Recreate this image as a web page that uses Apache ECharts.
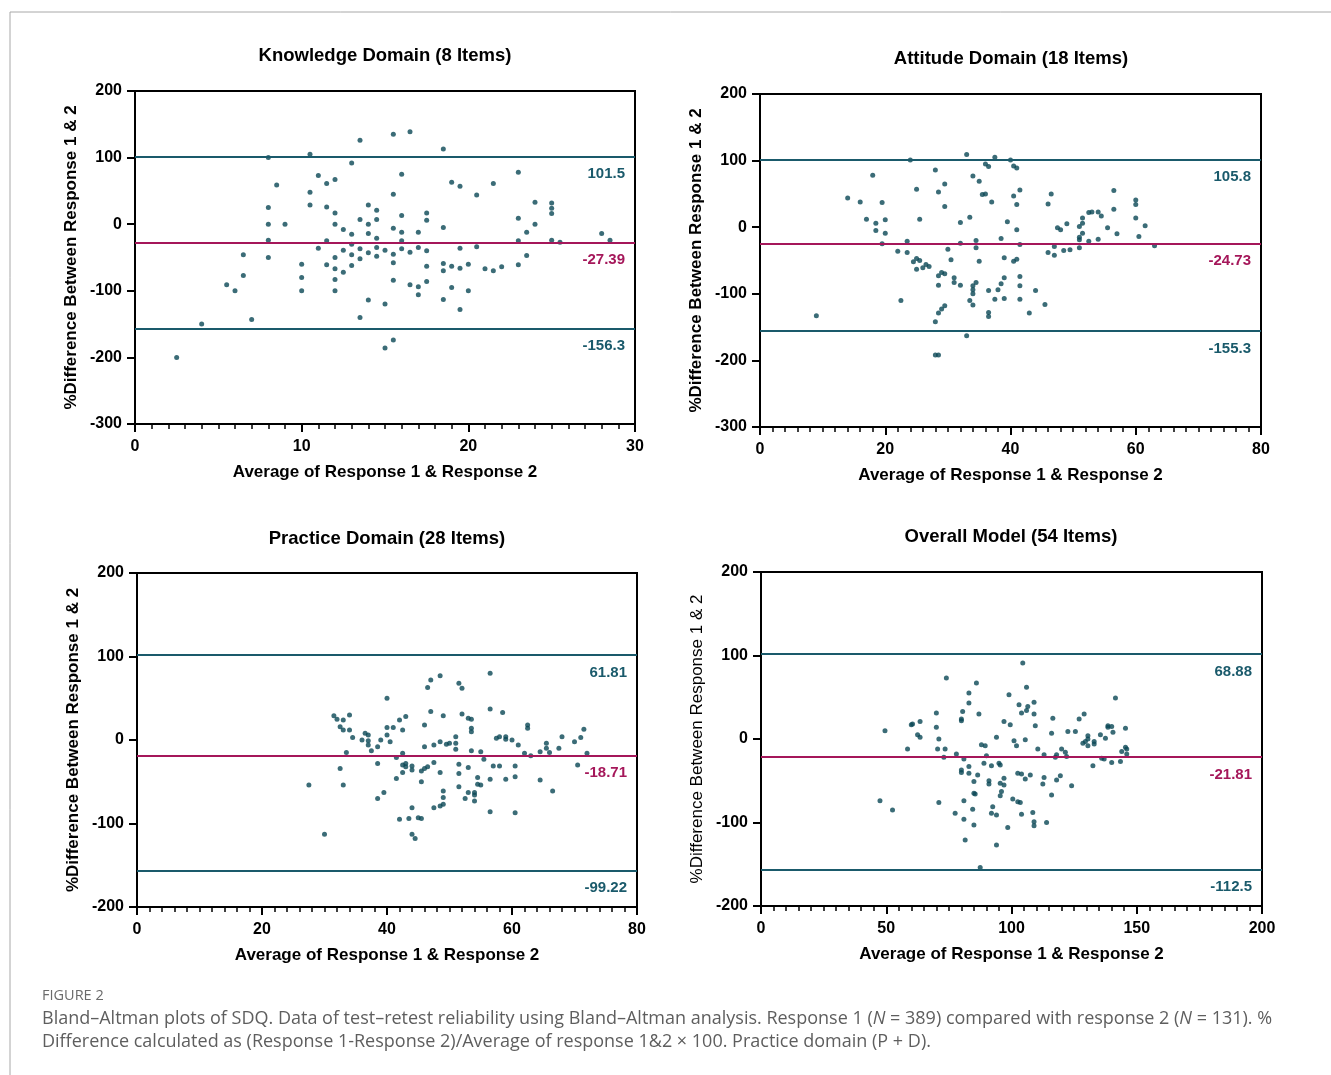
<!DOCTYPE html>
<html>
<head>
<meta charset="utf-8">
<script src="https://cdn.jsdelivr.net/npm/echarts@6/dist/echarts.min.js"></script>
<style>
html,body{margin:0;padding:0;background:#fff;}
#chart{width:1331px;height:1075px;}
</style>
</head>
<body>
<div id="chart"></div>
<script>
// ---------- DATA ----------
const panelTitles = ['Knowledge Domain (8 Items)', 'Attitude Domain (18 Items)', 'Practice Domain (28 Items)', 'Overall Model (54 Items)'];
const xAxisName = 'Average of Response 1 & Response 2';
const yAxisName = '%Difference Between Response 1 & 2';
const xMax = [30, 80, 80, 200];
const xInterval = [10, 20, 20, 50];
const yMin = [-300, -300, -200, -200];
const yMax = [200, 200, 200, 200];

// drawn line positions (as in the figure) and their printed labels
const upperLine = [101.5, 102, 101.5, 101.5];
const meanLine = [-27.39, -24.73, -18.71, -21.81];
const lowerLine = [-156.3, -156, -156.3, -156.3];
const upperText = ['101.5', '105.8', '61.81', '68.88'];
const meanText = ['-27.39', '-24.73', '-18.71', '-21.81'];
const lowerText = ['-156.3', '-155.3', '-99.22', '-112.5'];

const knowledgePoints = [
[2.5,-200],[4,-150],[5.5,-91],[6,-100],[6.5,-46],[6.5,-77],[7,-143],[8,100],[8,25],[8,0],[8,-24],[8,-50],[8.5,59],[9,0],
[10,-60],[10,-80],[10,-100],[10.5,105],[10.5,48],[10.5,29],[11,73],[11,-36],[11.5,61],[11.5,26],[11.5,-25],[11.5,-61],
[12,67],[12,17],[12,0],[12,-50],[12,-67],[12,-83],[12,-100],[12.5,-8],[12.5,-39],[12.5,-72],[13,92],[13,-15],[13,-30],[13,-46],[13,-62],
[13.5,126],[13.5,7],[13.5,-37],[13.5,-52],[13.5,-140],[14,29],[14,0],[14,-14],[14,-43],[14,-114],[14.5,21],[14.5,7],[14.5,-21],[14.5,-35],[14.5,-48],
[15,-39],[15,-120],[15,-186],[15.5,135],[15.5,45],[15.5,-6],[15.5,-45],[15.5,-58],[15.5,-84],[15.5,-174],[16,75],[16,13],[16,-12],[16,-25],[16,-37],
[16.5,139],[16.5,-42],[16.5,-91],[17,-12],[17,-35],[17,-94],[17,-106],[17.5,17],[17.5,6],[17.5,-40],[17.5,-63],[17.5,-86],
[18.5,113],[18.5,-5],[18.5,-59],[18.5,-70],[18.5,-113],[19,63],[19,-63],[19,-95],[19.5,57],[19.5,-36],[19.5,-66],[19.5,-128],
[20,-60],[20,-100],[20.5,44],[20.5,-34],[21,-67],[21.5,61],[21.5,-70],[22,-64],[23,78],[23,9],[23,-25],[23,-61],[23.5,-12],[23.5,-47],
[24,33],[24,0],[25,32],[25,24],[25,16],[25,-24],[25.5,-27],[28,-14],[28.5,-24]
];
const attitudePoints = [
[9,-133],[14,44],[16,38],[17,12],[18,78],[18.5,6],[18.5,-5],[19.5,37],[19.5,-25],[20,11],[20,-9],[22,-36],[22.5,-110],[23.5,-21],[23.5,-38],
[24,101],[24.5,-52],[25,57],[25,-47],[25,-63],[25.5,12],[25.5,-50],[26,-61],[26.5,-56],[27,-59],[28,86],[28,-142],[28,-192],
[28.5,53],[28.5,-73],[28.5,-87],[28.5,-129],[28.5,-192],[29,-68],[29,-123],[29.5,65],[29.5,31],[29.5,-70],[29.5,-118],[30,-33],[30.5,-49],
[31,-76],[31,-83],[32,7],[32,-24],[32,-87],[33,109],[33,-163],[33.5,15],[33.5,-110],[34,77],[34,-88],[34,-94],[34,-100],[34,-117],
[34.5,-20],[34.5,-31],[34.5,-83],[35,69],[35,-51],[35.5,49],[36,50],[36,95],[36.5,91],[36.5,-95],[36.5,-128],[36.5,-134],[37,38],
[37.5,105],[37.5,-108],[38,-94],[38.5,-17],[38.5,-85],[39,-46],[39,-76],[39,-107],[39.5,8],[40,101],[40.5,92],[40.5,47],[40.5,-51],
[41,89],[41,34],[41,-4],[41,-48],[41.5,56],[41.5,-26],[41.5,-74],[41.5,-88],[41.5,-108],[43,-129],[44,-95],[45.5,-116],
[46,35],[46,-38],[46.5,50],[47,-29],[47,-42],[47.5,-1],[48,-4],[48.5,-35],[49,5],[49.5,-34],[51,1],[51,-15],[51,-19],[51,-31],
[51.5,6],[51.5,14],[51.5,-9],[52.5,22],[52.5,-21],[53,23],[54,23],[54,-18],[54.5,17],[55.5,-1],[56.5,55],[56.5,27],[57,-10],
[60,41],[60,34],[60,14],[60.5,-14],[61.5,2],[63,-28]
];
const practicePoints = [
[27.5,-54],[30,-113],[31.5,29],[32,25],[32.5,16],[32.5,-34],[33,24],[33,12],[33,-54],[33.5,-15],[34,30],[34,12],[34.5,3],
[36,0],[36.5,8],[37,6],[37,-1],[37,-6],[37.5,-13],[38.5,-8],[38.5,-28],[38.5,-70],[39,0],[39.5,-63],[40,50],[40,15],[40,6],[40.5,-2],
[41,15],[41.5,-21],[41.5,-46],[42,24],[42,-95],[42.5,12],[42.5,-16],[42.5,-30],[42.5,-39],[43,28],[43,-28],[43,-32],[43.5,-94],
[44,-31],[44,-36],[44,-81],[44,-113],[44.5,-118],[45,-93],[45.5,-37],[45.5,-50],[45.5,-94],[46,18],[46,-8],[46,-34],[46.5,63],[46.5,-32],
[47,72],[47,34],[47.5,-6],[47.5,-27],[47.5,-81],[48.5,77],[48.5,-2],[48.5,-39],[48.5,-79],[49,29],[49,-61],[49,-69],[49,-77],
[49.5,-5],[50,-4],[51,4],[51,-4],[51,-11],[51.5,68],[51.5,-29],[51.5,-40],[51.5,-56],[52,62],[52,31],[52.5,-70],
[53,26],[53,-33],[53,-63],[53.5,25],[53.5,14],[53.5,10],[53.5,-13],[54,-63],[54,-66],[54,-73],[54.5,-45],[54.5,-53],[55,-14],[55,-54],[55.5,-23],
[56.5,80],[56.5,37],[56.5,-47],[56.5,-86],[57,-31],[57.5,2],[58,4],[58,-31],[58.5,33],[59,4],[59,1],[59,-47],
[60,0],[60.5,-31],[60.5,-44],[60.5,-87],[61,-6],[62,-16],[62.5,18],[62.5,14],[63,-19],[64.5,-14],[64.5,-48],
[65.5,-4],[65.5,-10],[66,-15],[66.5,-61],[67.5,-10],[68,4],[70,-2],[70.5,-30],[71,3],[71.5,13],[72,-16]
];
const overallPoints = [
[47.5,-74],[49.5,10],[52.5,-85],[58.5,-12],[60,17],[60.5,18],[63.5,21],[62.5,5],[63.5,2],
[70,31],[70,14],[71,0],[70.5,-12],[71,-76],[73.5,-12],[73,-22],[74,73],[77.5,-89],[78,-18],
[80,24],[80,22],[80.5,33],[80,-37],[80,-40],[81,-24],[81,-74],[81,-96],[81.5,-121],
[83,55],[83,43],[83,-33],[83,-41],[84.5,-84],[85,-65],[85,-51],[85,-103],[85.5,-66],[86,67],[86.5,-43],[87,30],[87.5,-154],
[88,-7],[89,-29],[89.5,-8],[90,-20],[91,-50],[91,-54],[92,-32],[92.5,-81],[92,-89],[94,2],[94,-91],[94,-127],
[95,-29],[95.5,-31],[95.5,-53],[97,-47],[97,21],[97,-55],[95.5,-68],[96,-63],[98.5,-106],[99,53],[99.5,17],
[100.5,-72],[101,-2],[102,-8],[102.5,-41],[103,41],[102.5,-75],[103.5,-76],[104,31],[104,-42],[104,-90],[104.5,91],
[105.5,-1],[105.5,-48],[106,62],[106,34],[106.5,39],[107.5,-43],[108.5,-88],[109,44],[109,30],[109,-99],[109,-104],[109.5,16],
[110.5,-12],[112.5,-54],[113,-19],[113,-46],[114,-100],[116,7],[116,-67],[116.5,25],[117.5,-22],[118,-19],[118,-49],
[119.5,-44],[120,-12],[121.5,-16],[122,-21],[122.5,9],[124,-56],[125.5,9],[127,24],[128.5,-5],[129,30],[129.5,-3],
[130.5,4],[130.5,0],[130.5,-8],[132.5,-32],[133,-3],[133,-6],[135.5,5],[136,-23],[137,-24],[137.5,1],[138.5,16],[138.5,14],
[140,15],[140.5,8],[140,-28],[141.5,49],[143.5,-27],[144,-15],[145.5,13],[145.5,-10],[146,-12],[146,-18]
];
const panelPoints = [knowledgePoints, attitudePoints, practicePoints, overallPoints];

// ---------- LAYOUT / STYLE ----------
const grids = [
  {left: 135, top: 91, width: 500, height: 333},
  {left: 760, top: 94, width: 501, height: 333},
  {left: 137, top: 573, width: 500, height: 334},
  {left: 761, top: 572, width: 501, height: 334}
];
const titlePos = [[385, 56], [1011, 59], [387, 539], [1011, 537]];
const yNameWeight = ['bold', 'bold', 'bold', 'normal'];
const FONT = '"Liberation Sans", Arial, Helvetica, sans-serif';
const TEAL = '#1a5a6b';
const DOT = '#0a4755';
const CRIMSON = '#a5175a';

const option = {
  animation: false,
  backgroundColor: '#fff',
  grid: grids.map(g => Object.assign({show: true, borderColor: '#000', borderWidth: 2, backgroundColor: 'transparent', containLabel: false}, g)),
  xAxis: grids.map((g, i) => ({
    gridIndex: i, type: 'value', min: 0, max: xMax[i], interval: xInterval[i],
    axisLine: {show: true, onZero: false, lineStyle: {color: '#000', width: 2}},
    axisTick: {show: true, length: 8, lineStyle: {color: '#000', width: 2}},
    minorTick: {show: true, splitNumber: 10, length: 5, lineStyle: {color: '#000', width: 1.5}},
    splitLine: {show: false},
    axisLabel: {margin: 15, fontSize: 16, fontWeight: 'bold', color: '#000', fontFamily: FONT, showMinLabel: true, showMaxLabel: true},
    name: xAxisName, nameLocation: 'middle', nameGap: 40,
    nameTextStyle: {fontSize: 17, fontWeight: 'bold', color: '#000', fontFamily: FONT}
  })),
  yAxis: grids.map((g, i) => ({
    gridIndex: i, type: 'value', min: yMin[i], max: yMax[i], interval: 100,
    axisLine: {show: true, onZero: false, lineStyle: {color: '#000', width: 2}},
    axisTick: {show: true, length: 8, lineStyle: {color: '#000', width: 2}},
    splitLine: {show: false},
    axisLabel: {margin: 13, fontSize: 16, fontWeight: 'bold', color: '#000', fontFamily: FONT, showMinLabel: true, showMaxLabel: true},
    name: yAxisName, nameLocation: 'middle', nameGap: 55, nameRotate: 90,
    nameTextStyle: {fontSize: 17, fontWeight: yNameWeight[i], color: '#000', fontFamily: FONT}
  })),
  series: panelPoints.map((pts, i) => ({
    type: 'scatter', xAxisIndex: i, yAxisIndex: i,
    data: pts, symbol: 'circle', symbolSize: 5,
    itemStyle: {color: DOT}, silent: true, z: 3,
    markLine: {
      silent: true, symbol: 'none', animation: false,
      label: {show: true, position: 'insideEndBottom', distance: [10, 10], fontSize: 15, fontWeight: 'bold', fontFamily: FONT},
      data: [
        {yAxis: upperLine[i], lineStyle: {color: TEAL, width: 2, type: 'solid'}, label: {formatter: upperText[i], color: TEAL}},
        {yAxis: meanLine[i], lineStyle: {color: CRIMSON, width: 2, type: 'solid'}, label: {formatter: meanText[i], color: CRIMSON}},
        {yAxis: lowerLine[i], lineStyle: {color: TEAL, width: 2, type: 'solid'}, label: {formatter: lowerText[i], color: TEAL}}
      ]
    }
  })),
  graphic: [
    {type: 'line', shape: {x1: 10, y1: 12, x2: 1331, y2: 12}, style: {stroke: '#a8a8a8', lineWidth: 1}},
    {type: 'line', shape: {x1: 10, y1: 12, x2: 10, y2: 1075}, style: {stroke: '#a8a8a8', lineWidth: 1}},
    ...panelTitles.map((t, i) => ({
      type: 'text', x: titlePos[i][0], y: titlePos[i][1],
      style: {text: t, font: 'bold 18.5px ' + FONT, fill: '#000', align: 'center', verticalAlign: 'middle', textAlign: 'center', textVerticalAlign: 'middle'}
    })),
    {type: 'text', x: 42, y: 996, style: {text: 'FIGURE 2', font: '14.5px "Open Sans", sans-serif', fill: '#6b6b6b', verticalAlign: 'middle', textVerticalAlign: 'middle'}},
    {type: 'text', x: 42, y: 1019, style: {
      text: 'Bland\u2013Altman plots of SDQ. Data of test\u2013retest reliability using Bland\u2013Altman analysis. Response 1 ({i|N} = 389) compared with response 2 ({i|N} = 131). %',
      font: '18px "Open Sans", sans-serif', fill: '#5e5e5e', verticalAlign: 'middle', textVerticalAlign: 'middle',
      rich: {i: {fontStyle: 'italic', fontSize: 18, fontFamily: '"Open Sans", sans-serif', fill: '#5e5e5e'}}
    }},
    {type: 'text', x: 42, y: 1042, style: {
      text: 'Difference calculated as (Response 1-Response 2)/Average of response 1&2 \u00d7 100. Practice domain (P + D).',
      font: '18px "Open Sans", sans-serif', fill: '#5e5e5e', verticalAlign: 'middle', textVerticalAlign: 'middle'
    }}
  ]
};

const chart = echarts.init(document.getElementById('chart'), null, {renderer: 'canvas'});
chart.setOption(option);
</script>
</body>
</html>
